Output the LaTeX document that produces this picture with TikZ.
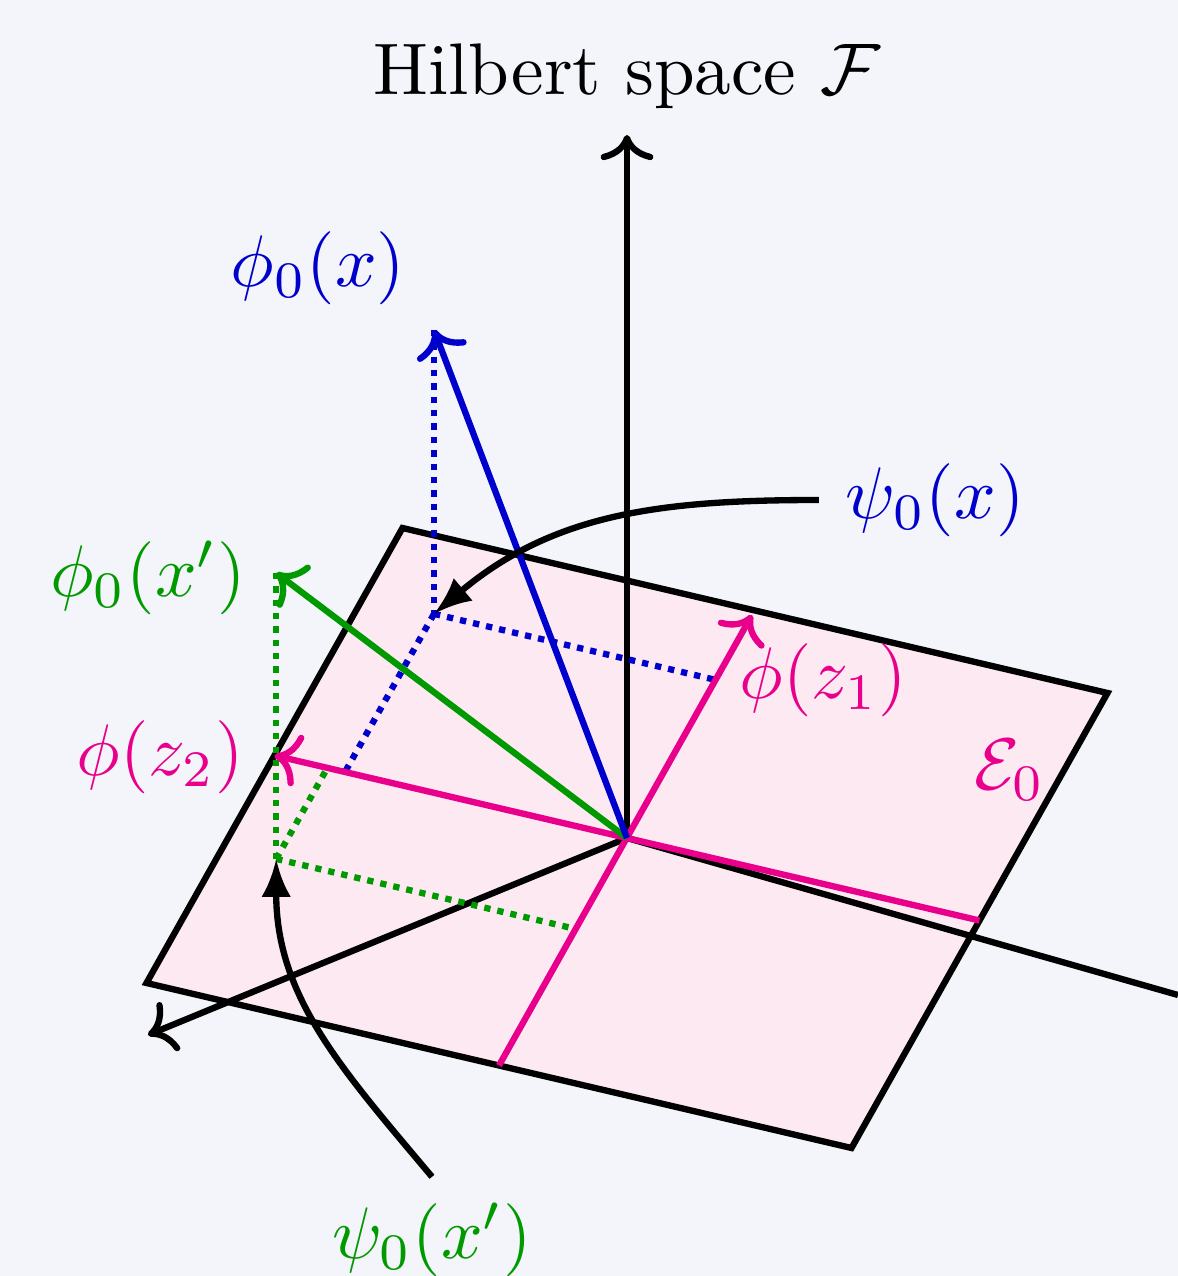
\documentclass[tikz,border=0pt]{standalone}
\usepackage{fix-cm}
\usetikzlibrary{arrows.meta}
\definecolor{bgcol}{RGB}{244,245,250}
\definecolor{planecol}{RGB}{252,233,242}
\definecolor{zpink}{RGB}{232,0,140}
\definecolor{fblue}{RGB}{0,0,204}
\definecolor{fgreen}{RGB}{0,153,0}
\begin{document}
\begin{tikzpicture}[line width=0.9pt,
  every node/.style={font=\fontsize{10.4}{12.5}\selectfont},
  proj/.style={densely dotted},
  hint/.style={-{Latex[length=5.4pt,width=4.2pt]}}]
\begin{scope}[x=0.5cm, y=0.5cm]
  % Background and frame
  \fill[bgcol] (-6.27,-4.38) rectangle (5.51,8.38);
  \useasboundingbox (-6.27,-4.38) rectangle (5.51,8.38);
  % Points of the picture
  \coordinate (O) at (0,0);
  \coordinate (A) at (-2.245,3.1);
  \coordinate (B) at (4.805,1.45);
  \coordinate (C) at (2.245,-3.1);
  \coordinate (D) at (-4.805,-1.45);
  \coordinate (zt) at (0,7.03);
  \coordinate (xt) at (-4.79,-1.97);
  \coordinate (yt) at (5.51,-1.57);
  \coordinate (z1a) at (-1.28,-2.275);
  \coordinate (z1b) at (1.25,2.23);
  \coordinate (z2a) at (3.525,-0.825);
  \coordinate (z2b) at (-3.525,0.825);
  % projection of phi_0(x)
  \coordinate (P) at (-1.93,2.241);
  \coordinate (Ptip) at (-1.93,5.08);
  \coordinate (P1) at (0.89,1.58);
  \coordinate (P2) at (-2.82,0.66);
  % projection of phi_0(x')
  \coordinate (Q) at (-3.508,-0.209);
  \coordinate (Qtip) at (-3.508,2.651);
  \coordinate (Q1) at (-0.512,-0.91);
  \coordinate (Q2) at (-2.996,0.701);
  % Plane E_0
  \filldraw[fill=planecol, draw=black] (A) -- (B) -- (C) -- (D) -- cycle;
  % Axes
  \draw[->] (O) -- (zt);
  \draw[->] (O) -- (xt);
  \draw (O) -- (yt);
  % Projections
  \draw[proj, fblue] (Ptip) -- (P);
  \draw[proj, fblue] (P) -- (P1);
  \draw[proj, fblue] (P) -- (P2);
  \draw[proj, fgreen] (Qtip) -- (Q);
  \draw[proj, fgreen] (Q) -- (Q1);
  \draw[proj, fgreen] (Q) -- (Q2);
  % Basis of E_0
  \draw[->, zpink] (z1a) -- (z1b);
  \draw[->, zpink] (z2a) -- (z2b);
  % Vectors
  \draw[->, fgreen] (O) -- (Qtip);
  \draw[->, fblue] (O) -- (Ptip);
  % Labels
  \node (title) at (0,7.62) {Hilbert space $\mathcal{F}$};
  \node[fblue] (phix) at (-3.09,5.70) {$\phi_0(x)$};
  \node[fblue] (psix) at (3.08,3.38) {$\psi_0(x)$};
  \node[fgreen] (phixp) at (-4.79,2.60) {$\phi_0(x')$};
  \node[fgreen] (psixp) at (-1.95,-4.02) {$\psi_0(x')$};
  \node[zpink] (phiz1) at (1.96,1.58) {$\phi(z_1)$};
  \node[zpink] (phiz2) at (-4.67,0.81) {$\phi(z_2)$};
  \node[zpink] (E0) at (3.83,0.68) {$\mathcal{E}_0$};
  % Pointers to the projections
  \draw[hint] (psix.west) to[out=180, in=40] (P);
  \draw[hint] (psixp.north) to[out=130, in=-90] (Q);
\end{scope}
\end{tikzpicture}
\end{document}
